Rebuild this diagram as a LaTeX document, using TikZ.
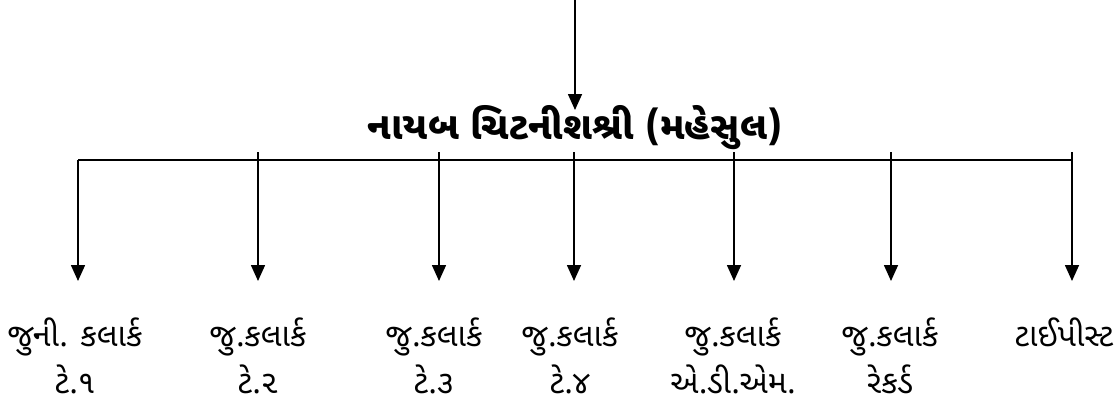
\documentclass[tikz,border=0pt]{standalone}
\usepackage{fontspec}
\newfontfamily\guj[Script=Gujarati]{Noto Sans Gujarati UI}
\usetikzlibrary{arrows.meta,calc}
\begin{document}
\begin{tikzpicture}[x=0.5pt,y=-0.5pt,
  wire/.style={line width=0.8pt},
  arr/.style={wire,-{Triangle[width=7pt,length=8pt]}},
  lab/.style={align=center,font=\guj\fontsize{16}{23.5}\selectfont,inner sep=0pt,anchor=center},
  ttl/.style={font=\guj\bfseries\fontsize{19}{22}\selectfont,inner sep=0pt}]
\useasboundingbox (0,0) rectangle (1119,403);
\coordinate (top) at (575,0);
\coordinate (tip) at (575,110);
\node[ttl] (t) at (575,128) {નાયબ ચિટનીશશ્રી (મહેસુલ)};
\draw[arr] (top) -- (tip);
\foreach \i/\x in {1/78,2/258,3/439,4/574,5/734,6/891,7/1072}{
  \coordinate (j\i) at (\x,160);
  \coordinate (e\i) at (\x,281);
  \coordinate (k\i) at (\x,152);
}
\draw[line width=1pt] (j1) -- (j7);
\foreach \i in {2,...,7}{\draw[wire] (j\i) -- (k\i);}
\foreach \i in {1,...,7}{\draw[arr] (j\i) -- (e\i);}
\node[lab] (l1) at (75,356) {જુની. કલાર્ક\\ટે.૧};
\node[lab] (l2) at (258,356) {જુ.કલાર્ક\\ટે.૨};
\node[lab] (l3) at (434,356) {જુ.કલાર્ક\\ટે.૩};
\node[lab] (l4) at (570,356) {જુ.કલાર્ક\\ટે.૪};
\node[lab] (l5) at (733,356) {જુ.કલાર્ક\\એ.ડી.એમ.};
\node[lab] (l6) at (890,356) {જુ.કલાર્ક\\રેકર્ડ};
\node[lab] (l7) at (1064,356) {ટાઈપીસ્ટ\\\phantom{ટે.૧}};
\end{tikzpicture}
\end{document}
